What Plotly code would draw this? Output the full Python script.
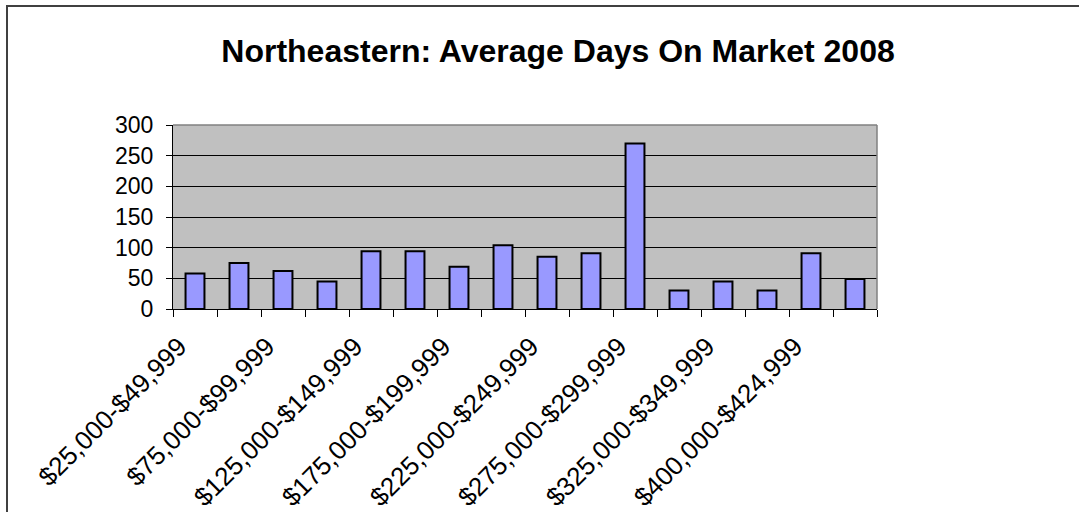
import plotly.graph_objects as go

categories = [
    "$25,000-$49,999", "$50,000-$74,999", "$75,000-$99,999", "$100,000-$124,999",
    "$125,000-$149,999", "$150,000-$174,999", "$175,000-$199,999", "$200,000-$224,999",
    "$225,000-$249,999", "$250,000-$274,999", "$275,000-$299,999", "$300,000-$324,999",
    "$325,000-$349,999", "$350,000-$399,999", "$400,000-$424,999", "$425,000-$449,999",
]
avg_days = [58, 75, 62, 45, 94, 94, 69, 104, 85, 91, 270, 30, 45, 30, 91, 49]
y_ticks = [0, 50, 100, 150, 200, 250, 300]
tick_text = [c if i % 2 == 0 else "" for i, c in enumerate(categories)]

W, H = 1079, 512
L, R, T, B = 173, 877, 125, 309

fig = go.Figure()
fig.add_trace(go.Bar(
    x=categories, y=avg_days,
    marker=dict(color="#9999FF", line=dict(color="#000000", width=2)),
    hoverinfo="x+y",
))

pw, ph = R - L, B - T
def px_x(p):
    return (p - L) / pw
def px_y(p):
    return (B - p) / ph

fig.update_layout(
    width=W, height=H,
    margin=dict(l=L, r=W - R, t=T, b=H - B, autoexpand=False),
    paper_bgcolor="white",
    plot_bgcolor="#C0C0C0",
    bargap=0.57,
    showlegend=False,
    font=dict(family="Liberation Sans, Arial, sans-serif", color="#000000"),
    title=dict(
        text="<b>Northeastern: Average Days On Market 2008</b>",
        font=dict(size=32, family="Liberation Sans, Arial, sans-serif", color="#000000"),
        xref="container", yref="container",
        x=558 / W, y=1 - 50.5 / H, xanchor="center", yanchor="middle",
    ),
    xaxis=dict(
        type="category",
        tickmode="array", tickvals=categories, ticktext=tick_text,
        tickson="boundaries", ticks="outside", ticklen=7, tickcolor="#000000", tickwidth=1,
        tickangle=-45, tickfont=dict(size=26),
        ticklabelshift=-16, ticklabelstandoff=11,
        showline=True, linecolor="#000000", linewidth=1,
        showgrid=False, automargin=False,
        range=[-0.5, len(categories) - 0.5],
    ),
    yaxis=dict(
        range=[0, 300], tickmode="array", tickvals=y_ticks,
        ticks="outside", ticklen=6, tickcolor="#000000",
        tickfont=dict(size=23),
        ticklabelstandoff=8,
        showline=True, linecolor="#000000", linewidth=1,
        showgrid=True, gridcolor="#000000", gridwidth=1,
        zeroline=False, automargin=False,
    ),
    shapes=[
        dict(type="line", xref="paper", yref="paper", x0=0, x1=1, y0=1, y1=1,
             line=dict(color="#808080", width=1.5), layer="above"),
        dict(type="line", xref="paper", yref="paper", x0=1, x1=1, y0=0, y1=1,
             line=dict(color="#808080", width=1.5), layer="above"),
        dict(type="rect", xref="paper", yref="paper",
             x0=px_x(7), x1=px_x(W + 20), y0=px_y(H + 20), y1=px_y(6),
             line=dict(color="#404040", width=2), fillcolor="rgba(0,0,0,0)", layer="below"),
    ],
)

fig.write_html(
    "out.html",
    config={"displayModeBar": False},
    post_script="document.body.style.margin='0';document.body.style.overflow='hidden';",
)
